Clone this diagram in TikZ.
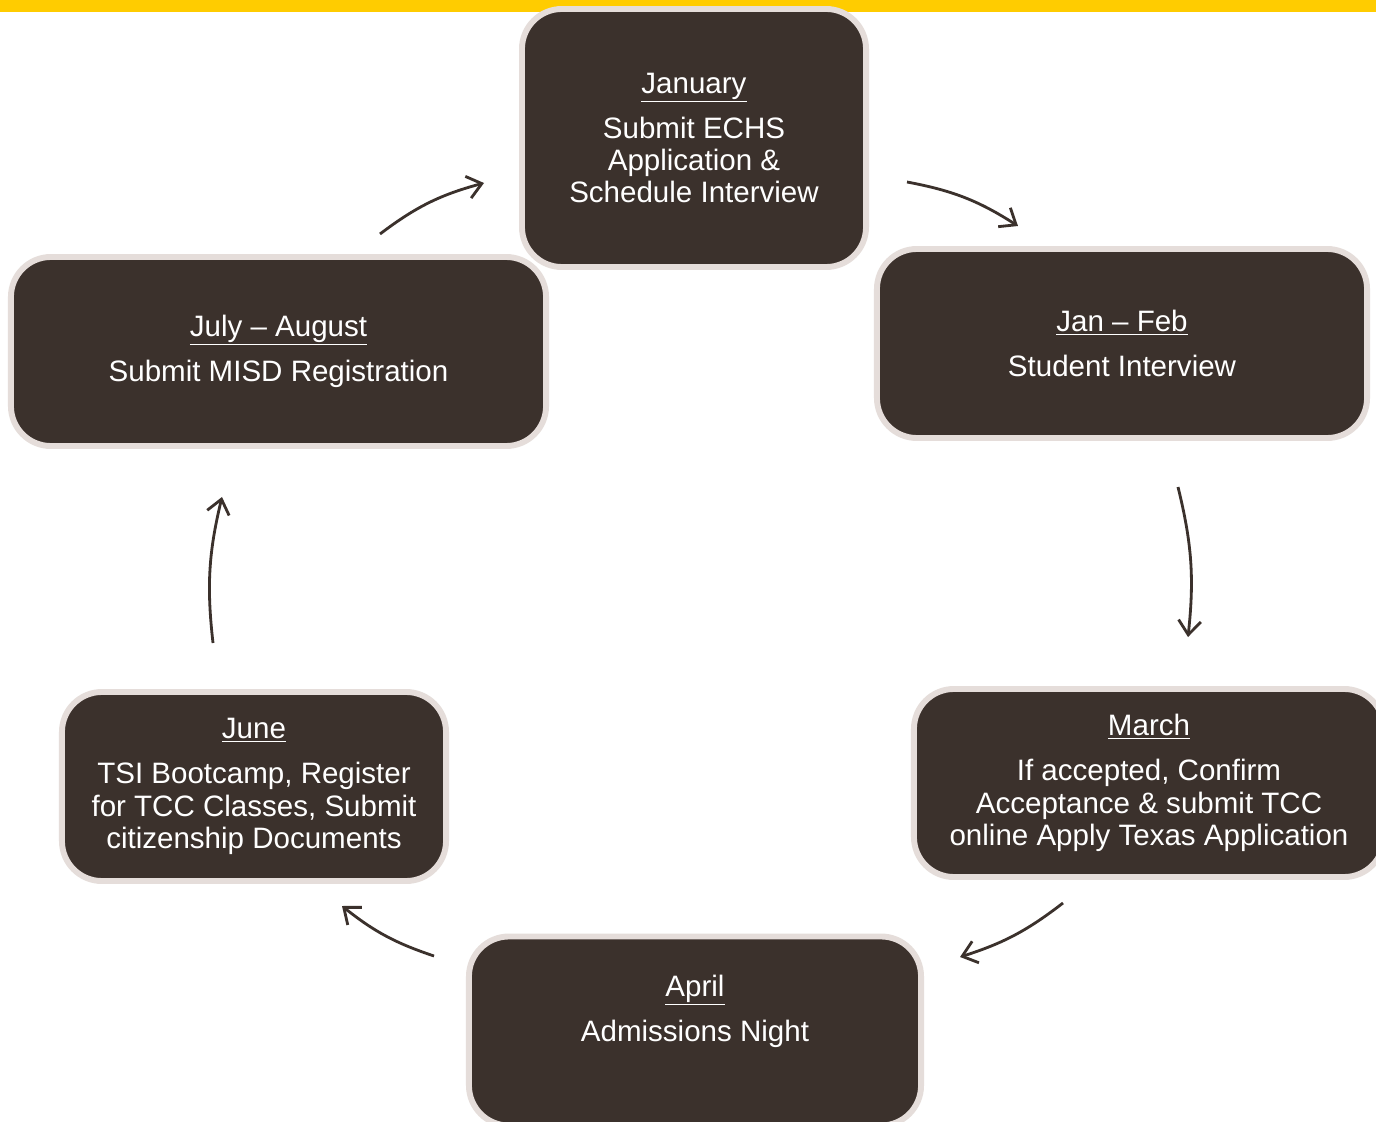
\documentclass[tikz,border=0pt]{standalone}
\usepackage{fontspec}
\setmainfont{Liberation Sans}
\usetikzlibrary{arrows.meta}

\definecolor{boxfill}{RGB}{59,49,44}
\definecolor{boxline}{RGB}{229,221,218}
\definecolor{topbar}{RGB}{255,204,0}

\begin{document}
\begin{tikzpicture}[
    x=0.025cm, y=-0.025cm,
    stepbox/.style={rectangle, draw=boxline, line width=4.2pt, fill=boxfill, rounded corners=1cm,
        text=white, align=center, font=\fontsize{21}{23}\selectfont},
    cyc/.style={draw=boxfill, line width=2pt, -{Straight Barb[length=10pt, width=16pt]}}
]

% Frame and top bar
\clip (0,0) rectangle (1376,1122);
\fill[white] (0,0) rectangle (1376,1122);
\fill[topbar] (0,0) rectangle (1376,12);

% Steps
\node[stepbox, minimum width=13.375cm, minimum height=4.725cm] (jul) at (278.5,351.5)
    {\underline{July -- August}\\[9pt] Submit MISD Registration};
\node[stepbox, minimum width=8.6cm, minimum height=6.45cm] (jan) at (694,138)
    {\underline{January}\\[9pt] Submit ECHS\\ Application \&\\ Schedule Interview};
\node[stepbox, minimum width=12.25cm, minimum height=4.725cm] (feb) at (1122,343.5)
    {\underline{Jan -- Feb}\\[9pt] Student Interview};
\node[stepbox, minimum width=11.75cm, minimum height=4.7cm] (mar) at (1149,783)
    {\underline{March}\\[9pt] If accepted, Confirm\\ Acceptance \& submit TCC\\ online Apply Texas Application};
\node[stepbox, minimum width=11.3cm, minimum height=4.725cm] (apr) at (695,1031)
    {\underline{April}\\[9pt] Admissions Night\\[10pt]\mbox{}};
\node[stepbox, minimum width=9.6cm, minimum height=4.725cm] (jun) at (254,786.5)
    {\underline{June}\\[9pt] TSI Bootcamp, Register\\ for TCC Classes, Submit\\ citizenship Documents};

% Arrow ends
\coordinate (a1) at (380,234);  \coordinate (b1) at (484,183);
\coordinate (a2) at (907,182);  \coordinate (b2) at (1018,226);
\coordinate (a3) at (1178,487); \coordinate (b3) at (1188,637);
\coordinate (a4) at (1063,903); \coordinate (b4) at (960,957);
\coordinate (a5) at (434,956);  \coordinate (b5) at (342,906);
\coordinate (a6) at (213,643);  \coordinate (b6) at (222,497);

% Cycle arrows
\draw[cyc] (a1) to[bend left=11] (b1);
\draw[cyc] (a2) to[bend left=11] (b2);
\draw[cyc] (a3) to[bend left=10] (b3);
\draw[cyc] (a4) to[bend left=10] (b4);
\draw[cyc] (a5) to[bend left=10] (b5);
\draw[cyc] (a6) to[bend left=10] (b6);

\end{tikzpicture}
\end{document}
